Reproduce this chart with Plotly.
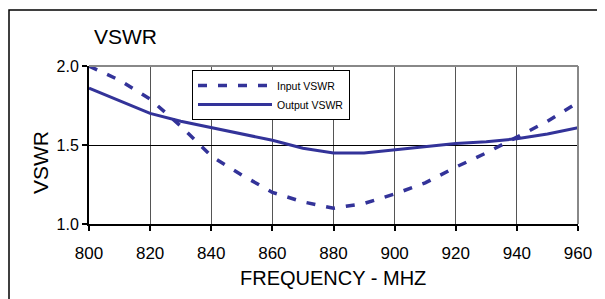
import plotly.graph_objects as go

freq = [800, 810, 820, 830, 840, 850, 860, 870, 880, 890, 900, 910, 920, 930, 940, 950, 960]
input_vswr = [2.00, 1.91, 1.79, 1.62, 1.43, 1.31, 1.20, 1.14, 1.10, 1.13, 1.19, 1.26, 1.36, 1.45, 1.55, 1.65, 1.77]
output_vswr = [1.86, 1.78, 1.70, 1.65, 1.61, 1.57, 1.53, 1.48, 1.45, 1.45, 1.47, 1.49, 1.51, 1.52, 1.54, 1.57, 1.61]
x_ticks = [800, 820, 840, 860, 880, 900, 920, 940, 960]
y_ticks = [1.0, 1.5, 2.0]

color = "#333399"
# page body has an 8px margin, so figure coordinates = window coordinates - 8
L, R, T, B = 81, 570, 58, 216
W, H = 605, 299
pw, ph = R - L, B - T


def px(fx):
    return (fx - L) / pw


def py(fy):
    return (B - fy) / ph


fig = go.Figure()
fig.add_trace(go.Scatter(x=freq, y=input_vswr, mode="lines", name="Input VSWR",
                         line=dict(color=color, width=3.5, dash="9px,11px")))
fig.add_trace(go.Scatter(x=freq, y=output_vswr, mode="lines", name="Output VSWR",
                         line=dict(color=color, width=3)))

fig.update_layout(
    width=W, height=H,
    margin=dict(l=L, r=W - R, t=T, b=H - B),
    paper_bgcolor="white", plot_bgcolor="white",
    font=dict(family="Liberation Sans, Arial", color="black"),
    showlegend=True,
    legend=dict(x=px(184), y=py(62), xanchor="left", yanchor="top",
                bgcolor="white", bordercolor="black", borderwidth=1,
                font=dict(size=10.5), tracegroupgap=0, itemwidth=74),
    xaxis=dict(range=[800, 960], tickvals=x_ticks, ticktext=[str(v) for v in x_ticks],
               showgrid=True, gridcolor="#555555", gridwidth=1,
               showline=True, linecolor="black", linewidth=2, mirror=False,
               ticks="outside", ticklen=5, tickcolor="black", tickwidth=2,
               tickfont=dict(size=17), zeroline=False, ticklabelstandoff=8),
    yaxis=dict(range=[1.0, 2.0], tickvals=y_ticks, ticktext=["1.0", "1.5", "2.0"],
               showgrid=True, gridcolor="black", gridwidth=1,
               showline=True, linecolor="black", linewidth=2,
               ticks="outside", ticklen=5, tickcolor="black", tickwidth=2,
               tickfont=dict(size=16), zeroline=False),
    annotations=[
        dict(text="VSWR", xref="paper", yref="paper", x=px(84), y=py(28),
             xanchor="left", yanchor="middle", showarrow=False, font=dict(size=21)),
        dict(text="VSWR", xref="paper", yref="paper", x=px(32), y=py(155),
             xanchor="center", yanchor="middle", showarrow=False, textangle=-90,
             font=dict(size=21)),
        dict(text="FREQUENCY - MHZ", xref="paper", yref="paper", x=px(325), y=py(270),
             xanchor="center", yanchor="middle", showarrow=False, font=dict(size=20)),
    ],
)
# grey frame on top and right of plot area
fig.add_shape(type="line", xref="paper", yref="paper", x0=0, x1=1, y0=1, y1=1,
              line=dict(color="#888888", width=2))
fig.add_shape(type="line", xref="paper", yref="paper", x0=1, x1=1, y0=0, y1=1,
              line=dict(color="#888888", width=2))
# outer chart border
fig.add_shape(type="rect", xref="paper", yref="paper",
              x0=px(1), x1=px(620), y0=py(310), y1=py(2),
              line=dict(color="black", width=1.5), layer="below")

fig.write_html("out.html")
